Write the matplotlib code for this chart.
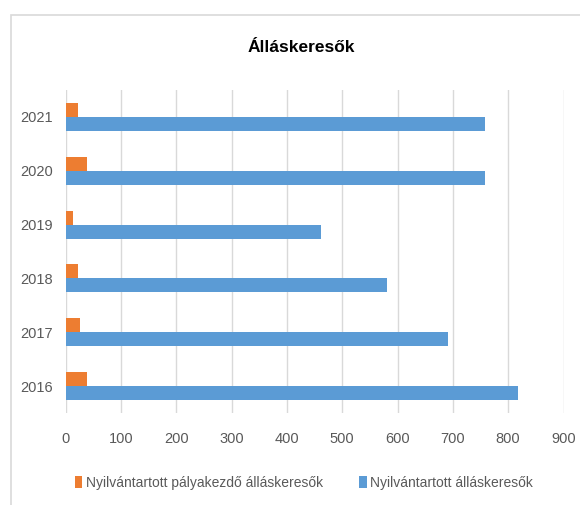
import matplotlib
matplotlib.use('Agg')
import matplotlib.pyplot as plt
from matplotlib.patches import Rectangle
import numpy as np

plt.rcParams['font.family'] = ['Liberation Sans Narrow', 'Liberation Sans', 'DejaVu Sans']

# adatok
evek = ['2016', '2017', '2018', '2019', '2020', '2021']
palyakezdo = [39, 26, 23, 14, 39, 22]
osszes = [817, 692, 581, 462, 759, 759]
ticks_x = [0, 100, 200, 300, 400, 500, 600, 700, 800, 900]

narancs = '#ED7D31'
kek = '#5B9BD5'
szurke = '#595959'

fig = plt.figure(figsize=(5.8, 5.05), dpi=100)
# keret a diagram korul
fig.patches.append(Rectangle((11 / 580, -0.1), 1.2, 1.1 - 15 / 505,
                             transform=fig.transFigure, fill=False,
                             edgecolor='#d9d9d9', linewidth=1.2))

ax = fig.add_axes([65.5 / 580, 1 - 413 / 505, 498 / 580, 323 / 505])
y = np.arange(len(evek))
h = 0.26
ax.barh(y + h / 2, palyakezdo, height=h, color=narancs,
        label='Nyilvántartott pályakezdő álláskeresők')
ax.barh(y - h / 2, osszes, height=h, color=kek,
        label='Nyilvántartott álláskeresők')

ax.set_xlim(0, 900)
ax.set_ylim(-0.5, len(evek) - 0.5)
ax.set_xticks(ticks_x)
ax.set_yticks(y)
ax.set_yticklabels(evek)
ax.tick_params(length=0, labelsize=10.5, colors=szurke, pad=9)
ax.tick_params(axis='x', pad=14)
ax.grid(axis='x', color='#d9d9d9', linewidth=1)
ax.set_axisbelow(True)
for s in ax.spines.values():
    s.set_visible(False)

fig.text(301 / 580, 1 - 48 / 505, 'Álláskeresők', ha='center', va='center',
         fontsize=12.5, fontweight='bold', color='#000000')

fig.legend(loc='center', bbox_to_anchor=(304 / 580, 1 - 483 / 505), ncol=2,
           frameon=False, fontsize=10, handlelength=0.55, handleheight=1.0,
           handletextpad=0.25, columnspacing=2.6, labelcolor=szurke)

fig.savefig('out.png', dpi=100)
